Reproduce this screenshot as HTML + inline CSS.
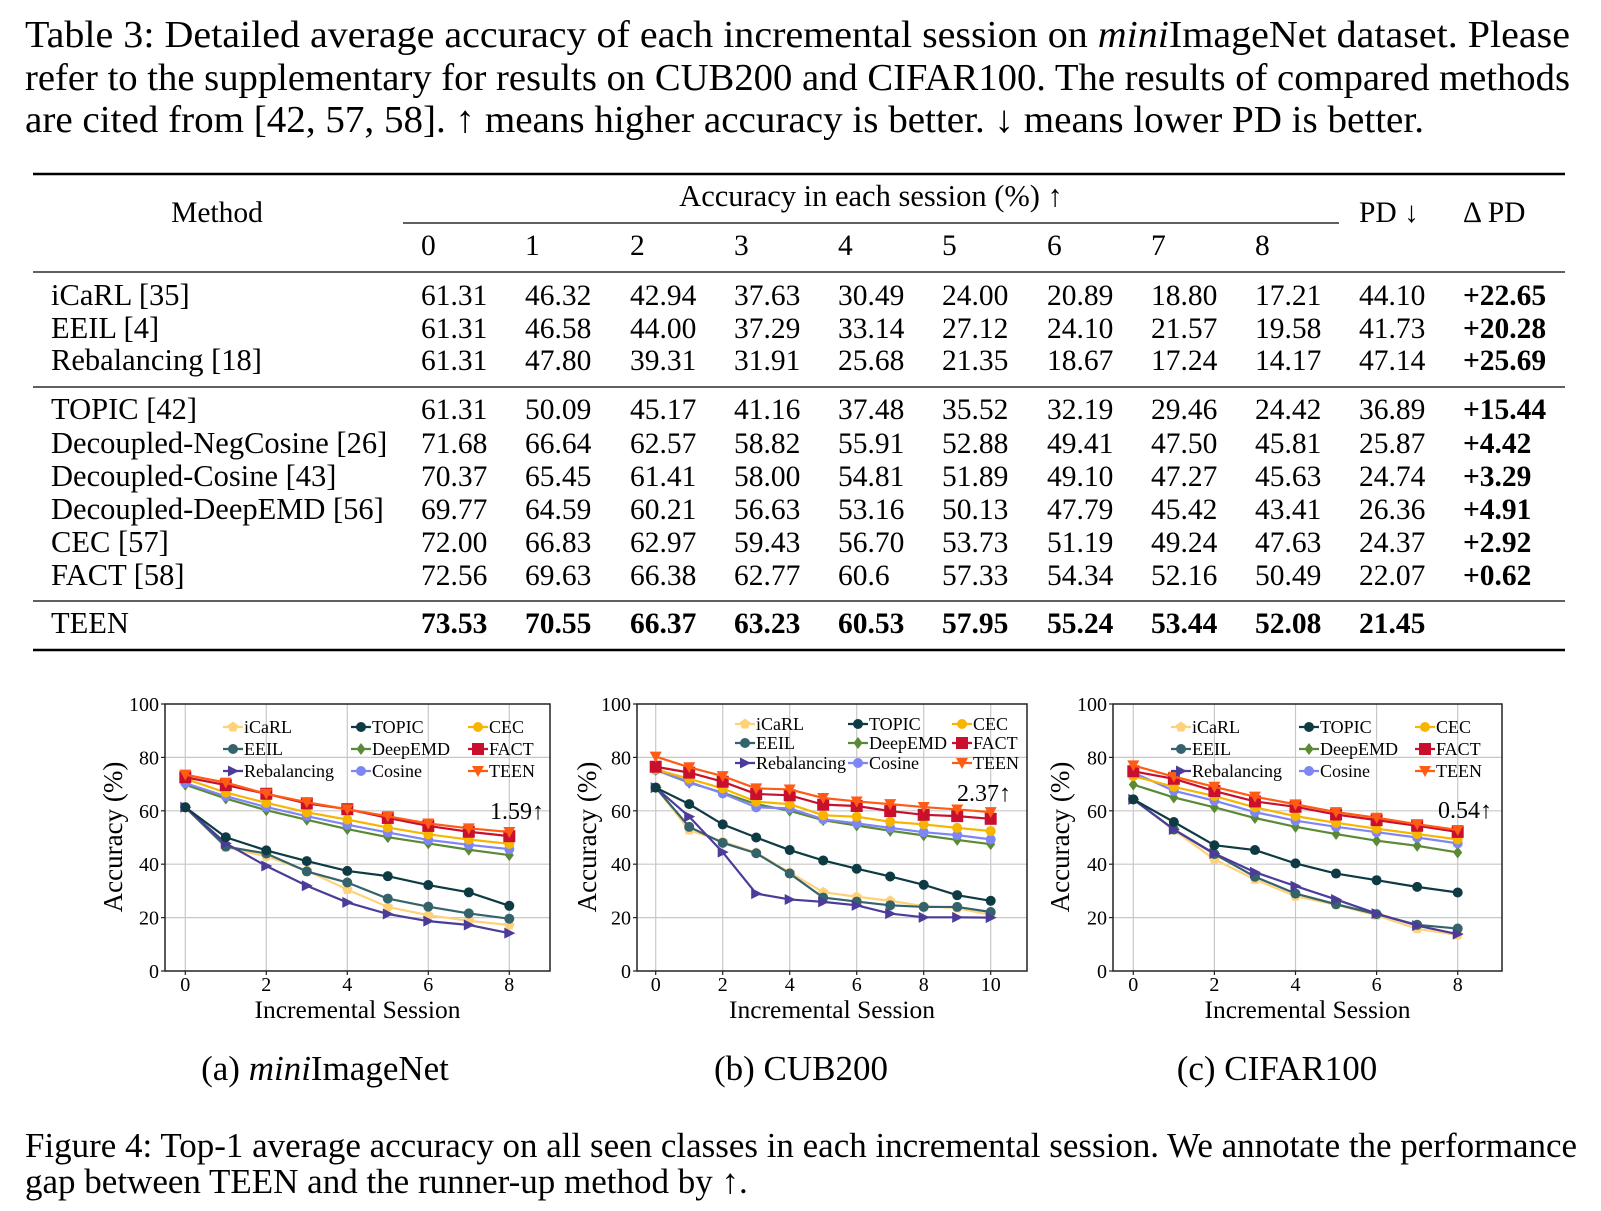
<!DOCTYPE html>
<html><head><meta charset="utf-8">
<style>
html,body{margin:0;padding:0;background:#fff;}
svg{display:block;font-family:"Liberation Serif",serif;}
</style></head>
<body>
<svg id="page" xmlns="http://www.w3.org/2000/svg" width="1601" height="1211" viewBox="0 0 1601 1211">
  <g font-size="38" fill="#000">
    <text x="25" y="47" textLength="1545" lengthAdjust="spacingAndGlyphs">Table 3: Detailed average accuracy of each incremental session on <tspan font-style="italic">mini</tspan>ImageNet dataset. Please</text>
    <text x="25" y="90" textLength="1545" lengthAdjust="spacingAndGlyphs">refer to the supplementary for results on CUB200 and CIFAR100. The results of compared methods</text>
    <text x="25" y="132" textLength="1399" lengthAdjust="spacingAndGlyphs">are cited from [42, 57, 58]. ↑ means higher accuracy is better. ↓ means lower PD is better.</text>
  </g>
  <g id="table"></g>
  <g id="charts"></g>
  <g font-size="35" text-anchor="middle">
    <text x="325" y="1080">(a) <tspan font-style="italic">mini</tspan>ImageNet</text>
    <text x="801" y="1080">(b) CUB200</text>
    <text x="1277" y="1080">(c) CIFAR100</text>
  </g>
  <g font-size="35">
    <text x="25" y="1157" textLength="1552" lengthAdjust="spacingAndGlyphs">Figure 4: Top-1 average accuracy on all seen classes in each incremental session. We annotate the performance</text>
    <text x="25" y="1193">gap between TEEN and the runner-up method by ↑.</text>
  </g>
</svg>
<script>
// ---------- Table data ----------
const tableMethods = ["iCaRL [35]","EEIL [4]","Rebalancing [18]","TOPIC [42]","Decoupled-NegCosine [26]","Decoupled-Cosine [43]","Decoupled-DeepEMD [56]","CEC [57]","FACT [58]","TEEN"];
const tableSessions = ["0","1","2","3","4","5","6","7","8"];
const tableAcc = [
 ["61.31","46.32","42.94","37.63","30.49","24.00","20.89","18.80","17.21"],
 ["61.31","46.58","44.00","37.29","33.14","27.12","24.10","21.57","19.58"],
 ["61.31","47.80","39.31","31.91","25.68","21.35","18.67","17.24","14.17"],
 ["61.31","50.09","45.17","41.16","37.48","35.52","32.19","29.46","24.42"],
 ["71.68","66.64","62.57","58.82","55.91","52.88","49.41","47.50","45.81"],
 ["70.37","65.45","61.41","58.00","54.81","51.89","49.10","47.27","45.63"],
 ["69.77","64.59","60.21","56.63","53.16","50.13","47.79","45.42","43.41"],
 ["72.00","66.83","62.97","59.43","56.70","53.73","51.19","49.24","47.63"],
 ["72.56","69.63","66.38","62.77","60.6","57.33","54.34","52.16","50.49"],
 ["73.53","70.55","66.37","63.23","60.53","57.95","55.24","53.44","52.08"]
];
const tablePD = ["44.10","41.73","47.14","36.89","25.87","24.74","26.36","24.37","22.07","21.45"];
const tableDeltaPD = ["+22.65","+20.28","+25.69","+15.44","+4.42","+3.29","+4.91","+2.92","+0.62",""];

// ---------- Chart data ----------
const miniSessions = [0,1,2,3,4,5,6,7,8];
const miniICaRL = [61.31,46.32,42.94,37.63,30.49,24.00,20.89,18.80,17.21];
const miniEEIL = [61.31,46.58,44.00,37.29,33.14,27.12,24.10,21.57,19.58];
const miniRebal = [61.31,47.80,39.31,31.91,25.68,21.35,18.67,17.24,14.17];
const miniTOPIC = [61.31,50.09,45.17,41.16,37.48,35.52,32.19,29.46,24.42];
const miniDeepEMD = [69.77,64.59,60.21,56.63,53.16,50.13,47.79,45.42,43.41];
const miniCosine = [70.37,65.45,61.41,58.00,54.81,51.89,49.10,47.27,45.63];
const miniCEC = [72.00,66.83,62.97,59.43,56.70,53.73,51.19,49.24,47.63];
const miniFACT = [72.56,69.63,66.38,62.77,60.6,57.33,54.34,52.16,50.49];
const miniTEEN = [73.53,70.55,66.37,63.23,60.53,57.95,55.24,53.44,52.08];

const cubSessions = [0,1,2,3,4,5,6,7,8,9,10];
const cubICaRL = [68.7,52.8,48.5,44.3,36.9,29.5,27.8,26.3,24.3,23.6,21.0];
const cubEEIL = [68.7,54.0,48.0,44.1,36.5,27.5,26.0,24.6,24.0,24.0,22.1];
const cubRebal = [68.7,57.8,44.5,29.0,26.8,25.9,24.6,21.5,20.1,20.1,20.0];
const cubTOPIC = [68.7,62.5,54.9,50.0,45.3,41.4,38.3,35.4,32.3,28.4,26.3];
const cubDeepEMD = [75.3,70.5,66.8,62.5,60.0,56.5,54.5,52.5,50.8,49.1,47.5];
const cubCosine = [75.3,70.8,66.5,61.3,60.9,56.8,55.3,53.6,52.0,50.9,49.3];
const cubCEC = [75.5,72.0,68.4,63.4,62.5,58.3,57.8,55.9,54.9,53.6,52.4];
const cubFACT = [76.5,74.3,70.9,66.3,65.8,62.3,61.8,59.9,58.5,58.0,57.0];
const cubTEEN = [80.3,76.3,73.0,68.4,68.0,64.8,63.5,62.5,61.4,60.5,59.5];

const cifarSessions = [0,1,2,3,4,5,6,7,8];
const cifarICaRL = [64.3,52.8,41.8,34.3,28.0,24.8,20.8,15.8,13.5];
const cifarEEIL = [64.3,53.0,43.8,35.3,29.0,25.0,21.3,17.3,15.9];
const cifarRebal = [64.3,53.0,44.0,37.0,31.8,26.8,21.5,17.0,13.8];
const cifarTOPIC = [64.3,55.8,47.1,45.3,40.3,36.5,34.0,31.5,29.4];
const cifarDeepEMD = [69.8,65.0,61.3,57.3,54.0,51.3,48.8,46.9,44.4];
const cifarCosine = [74.3,67.5,63.8,59.5,56.3,54.0,52.0,50.0,47.8];
const cifarCEC = [73.0,69.0,65.5,61.3,58.0,55.5,53.3,51.3,49.3];
const cifarFACT = [74.8,72.0,67.4,63.5,61.5,58.6,56.5,54.4,52.1];
const cifarTEEN = [77.0,72.8,69.0,65.3,62.4,59.5,57.4,55.0,52.8];

const yTicks = [0,20,40,60,80,100];
const seriesNames = ["iCaRL","EEIL","Rebalancing","TOPIC","DeepEMD","Cosine","CEC","FACT","TEEN"];
const gapLabels = ["1.59","2.37","0.54"];

const NS = "http://www.w3.org/2000/svg";
function mk(tag, attrs, parent){
  const e = document.createElementNS(NS, tag);
  for (const k in attrs) e.setAttribute(k, attrs[k]);
  if (parent) parent.appendChild(e);
  return e;
}

// ---------- Build table ----------
(function(){
  const t = document.getElementById('table');
  const colX = [421,525,630,734,838,942,1047,1151,1255];
  const pdX = 1359, dpdX = 1463;
  const rowY = [305,338,370,419,453,486,519,552,585,633];
  const rules = [[33,1565,174,2.5],[403,1339,223,1.3],[33,1565,272,1.3],[33,1565,387,1.3],[33,1565,601,1.3],[33,1565,650,2.5]];
  rules.forEach(function(r){
    const l = mk('line',{x1:r[0],x2:r[1],y1:r[2],y2:r[2],stroke:'#000','stroke-width':r[3]},t);
    
    
  });
  const hdr = mk('g',{'font-size':29.5},t);
  
  
  let e = mk('text',{x:217,y:222,'text-anchor':'middle'},hdr); e.textContent='Method';
  e = mk('text',{x:871,y:206,'text-anchor':'middle','font-size':30.5},hdr); e.textContent='Accuracy in each session (%) ↑';
  e = mk('text',{x:1359,y:222},hdr); e.textContent='PD ↓';
  e = mk('text',{x:1463,y:222},hdr); e.textContent='Δ PD';
  tableSessions.forEach(function(s,i){
    const tx = mk('text',{x:colX[i],y:255},hdr);
    tx.textContent = s;
  });
  tableMethods.forEach(function(m,r){
    const g = mk('g',{'font-size':29.5},t);
    
    
    const bold = (r === tableMethods.length-1);
    let tx = mk('text',{x:51,y:rowY[r],'font-size':30.5},g); tx.textContent = m;
    tableAcc[r].forEach(function(v,c){
      const n = mk('text',{x:colX[c],y:rowY[r],'font-weight':bold?'bold':'normal'},g);
      n.textContent = v;
    });
    tx = mk('text',{x:pdX,y:rowY[r],'font-weight':bold?'bold':'normal'},g); tx.textContent = tablePD[r];
    tx = mk('text',{x:dpdX,y:rowY[r],'font-weight':'bold'},g); tx.textContent = tableDeltaPD[r];
  });
})();

// ---------- Charts ----------
const styles = {
  iCaRL:{c:'#ffd27a',m:'pent'}, EEIL:{c:'#35636b',m:'circle'}, Rebalancing:{c:'#4b3c9a',m:'tri'},
  TOPIC:{c:'#0e3b43',m:'circle'}, DeepEMD:{c:'#5a8a35',m:'diamond'}, Cosine:{c:'#7e86f5',m:'circle'},
  CEC:{c:'#f7b500',m:'circle'}, FACT:{c:'#c8102e',m:'square'}, TEEN:{c:'#ff5b14',m:'tridown'}
};
const drawOrder = ["iCaRL","EEIL","Rebalancing","TOPIC","DeepEMD","Cosine","CEC","FACT","TEEN"];

function marker(g, shape, cx, cy, color){
  let e;
  if (shape==='circle') e = mk('circle',{cx:cx,cy:cy,r:5,fill:color},g);
  else if (shape==='square') e = mk('rect',{x:cx-6,y:cy-6,width:12,height:12,fill:color},g);
  else if (shape==='diamond') e = mk('polygon',{points:[cx,cy-6,cx+4.5,cy,cx,cy+6,cx-4.5,cy].join(','),fill:color},g);
  else if (shape==='tri') e = mk('polygon',{points:[cx-5,cy-5.5,cx+6,cy,cx-5,cy+5.5].join(','),fill:color},g);
  else if (shape==='tridown') e = mk('polygon',{points:[cx-6,cy-5,cx+6,cy-5,cx,cy+6].join(','),fill:color},g);
  else {
    const pts=[]; for(let k=0;k<5;k++){const a=-Math.PI/2+k*2*Math.PI/5; pts.push(cx+5.5*Math.cos(a), cy+5.5*Math.sin(a));}
    e = mk('polygon',{points:pts.join(','),fill:color},g);
  }
  return e;
}

function drawChart(cfg){
  const root = document.getElementById('charts');
  const g = mk('g',{},root);
  
  
  const top=704, bottom=971;
  const yS = function(v){ return bottom - (v/100)*(bottom-top); };
  const xS = function(s){ return cfg.x0 + s*cfg.unit; };
  const grid = mk('g',{stroke:'#c8c8c8','stroke-width':1.2},g);
  
  
  yTicks.forEach(function(v){ if(v>0 && v<100) mk('line',{x1:cfg.left,x2:cfg.right,y1:yS(v),y2:yS(v)},grid); });
  cfg.sessions.forEach(function(s){ if(s%2===0) mk('line',{x1:xS(s),x2:xS(s),y1:top,y2:bottom},grid); });
  const fr = mk('rect',{x:cfg.left,y:top,width:cfg.right-cfg.left,height:bottom-top,fill:'none',stroke:'#222','stroke-width':1.5},g);
  
  
  const yt = mk('g',{'font-size':20,'text-anchor':'end'},g);
  
  
  yTicks.forEach(function(v){
    mk('line',{x1:cfg.left-4,x2:cfg.left,y1:yS(v),y2:yS(v),stroke:'#222','stroke-width':1.2},yt);
    const t = mk('text',{x:cfg.left-6,y:yS(v)+7},yt); t.textContent = v;
  });
  const xt = mk('g',{'font-size':20,'text-anchor':'middle'},g);
  
  
  cfg.sessions.forEach(function(s){
    if(s%2===0){
      mk('line',{x1:xS(s),x2:xS(s),y1:bottom,y2:bottom+4,stroke:'#222','stroke-width':1.2},xt);
      const t = mk('text',{x:xS(s),y:991},xt); t.textContent = s;
    }
  });
  const xtitle = mk('text',{x:(cfg.left+cfg.right)/2,y:1018,'font-size':25.5,'text-anchor':'middle'},g);
  
  
  xtitle.textContent = 'Incremental Session';
  const ytitle = mk('text',{x:0,y:0,'font-size':27,'text-anchor':'middle',transform:'translate('+(cfg.ytx+9)+',837) rotate(-90)'},g);
  
  
  ytitle.textContent = 'Accuracy (%)';
  drawOrder.forEach(function(nm){
    const st = styles[nm];
    const vals = cfg.series[nm];
    const sg = mk('g',{},g);
    
    
    const pts = vals.map(function(v,i){ return xS(cfg.sessions[i])+','+yS(v); }).join(' ');
    const pl = mk('polyline',{points:pts,fill:'none',stroke:st.c,'stroke-width':2.2},sg);
    
    
    vals.forEach(function(v,i){
      const m = marker(sg, st.m, xS(cfg.sessions[i]), yS(v), st.c);
      
      
    });
  });
  const lg = mk('g',{'font-size':18},g);
  
  
  seriesNames.forEach(function(nm,i){
    const col = Math.floor(i/3), row = i%3;
    const lx = cfg.legCols[col], ly = cfg.legRows[row];
    const st = styles[nm];
    const eg = mk('g',{},lg);
    
    
    mk('line',{x1:lx,x2:lx+20,y1:ly,y2:ly,stroke:st.c,'stroke-width':2.2},eg);
    marker(eg, st.m, lx+10, ly, st.c);
    const t = mk('text',{x:lx+21,y:ly+6},eg); t.textContent = nm;
  });
  const an = mk('text',{x:cfg.ann[0],y:cfg.ann[1],'font-size':24},g);
  
  
  an.textContent = cfg.gap + '↑';
}

drawChart({name:'chart-miniimagenet', left:165, right:550, x0:185.3, unit:40.5, ytx:113, sessions:miniSessions,
  series:{iCaRL:miniICaRL,EEIL:miniEEIL,Rebalancing:miniRebal,TOPIC:miniTOPIC,DeepEMD:miniDeepEMD,Cosine:miniCosine,CEC:miniCEC,FACT:miniFACT,TEEN:miniTEEN},
  legCols:[223,351,468], legRows:[727,749,771], ann:[490,819], gap:gapLabels[0]});
drawChart({name:'chart-cub200', left:637, right:1027, x0:655.7, unit:33.5, ytx:587, sessions:cubSessions,
  series:{iCaRL:cubICaRL,EEIL:cubEEIL,Rebalancing:cubRebal,TOPIC:cubTOPIC,DeepEMD:cubDeepEMD,Cosine:cubCosine,CEC:cubCEC,FACT:cubFACT,TEEN:cubTEEN},
  legCols:[735,848,952], legRows:[724,743,763], ann:[957,801], gap:gapLabels[1]});
drawChart({name:'chart-cifar100', left:1113, right:1502, x0:1133.3, unit:40.55, ytx:1060, sessions:cifarSessions,
  series:{iCaRL:cifarICaRL,EEIL:cifarEEIL,Rebalancing:cifarRebal,TOPIC:cifarTOPIC,DeepEMD:cifarDeepEMD,Cosine:cifarCosine,CEC:cifarCEC,FACT:cifarFACT,TEEN:cifarTEEN},
  legCols:[1171,1299,1415], legRows:[727,749,771], ann:[1438,818], gap:gapLabels[2]});
</script>
</body></html>
